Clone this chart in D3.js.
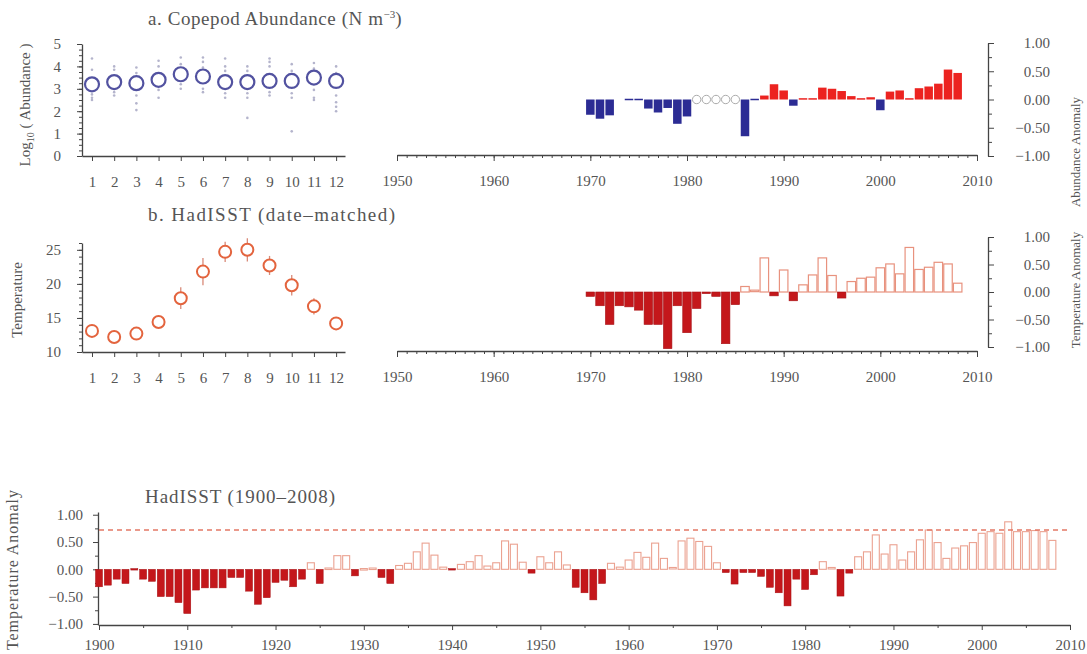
<!DOCTYPE html>
<html>
<head>
<meta charset="utf-8">
<script src="https://cdn.jsdelivr.net/npm/d3@7"></script>
<style>
body { margin: 0; background: #fff; }
text { font-family: "Liberation Serif", serif; fill: #555; }
.axis path, .axis line { stroke: #444; }
.axis text { font-family: "Liberation Serif", serif; fill: #555; font-size: 15px; }
</style>
</head>
<body>
<script>
// monthly climatology (panel a / b, left)
var months = [1, 2, 3, 4, 5, 6, 7, 8, 9, 10, 11, 12];
var copeMean = [3.2, 3.3, 3.25, 3.4, 3.65, 3.55, 3.3, 3.3, 3.35, 3.35, 3.5, 3.35];
var copeDots = [
  [4.35, 3.85, 2.75, 2.6, 2.5],
  [4.0, 3.85, 2.85, 2.7],
  [3.95, 3.7, 2.7, 2.35, 2.05],
  [4.25, 4.0, 2.95, 2.6],
  [4.4, 4.1, 3.2, 3.0],
  [4.4, 4.2, 3.95, 3.0, 2.85],
  [4.35, 4.0, 3.8, 2.8, 2.6],
  [4.0, 3.8, 2.8, 2.6, 1.7],
  [4.35, 4.2, 4.0, 2.85, 2.7],
  [4.1, 3.8, 2.8, 2.6, 1.1],
  [4.15, 3.9, 2.95, 2.6, 2.5],
  [4.0, 3.7, 2.7, 2.4, 2.2, 2.0]
];
var tempMean = [13.1, 12.2, 12.7, 14.4, 17.9, 21.8, 24.7, 25.0, 22.7, 19.8, 16.7, 14.2];
var tempSd = [0.7, 0.7, 0.8, 0.9, 1.6, 2.0, 1.5, 1.7, 1.4, 1.5, 1.2, 0.9];

// annual anomalies 1970-2008 (panel a / b, right)
var annYears = [1970, 1971, 1972, 1973, 1974, 1975, 1976, 1977, 1978, 1979,
  1980, 1981, 1982, 1983, 1984, 1985, 1986, 1987, 1988, 1989,
  1990, 1991, 1992, 1993, 1994, 1995, 1996, 1997, 1998, 1999,
  2000, 2001, 2002, 2003, 2004, 2005, 2006, 2007, 2008];
var copeAnom = [-0.27, -0.34, -0.28, null, -0.02, -0.02, -0.16, -0.23, -0.15, -0.43,
  -0.30, null, null, null, null, null, -0.65, -0.01, 0.07, 0.27,
  0.16, -0.11, 0.01, 0.01, 0.21, 0.19, 0.15, 0.06, 0.01, 0.04,
  -0.19, 0.14, 0.16, 0.01, 0.20, 0.23, 0.28, 0.53, 0.47];
var copeMissing = [1981, 1982, 1983, 1984, 1985];
var sstAnom = [-0.08, -0.25, -0.59, -0.25, -0.27, -0.33, -0.59, -0.59, -1.03, -0.25,
  -0.74, -0.30, -0.03, -0.08, -0.94, -0.23, 0.10, 0.02, 0.62, -0.07,
  0.40, -0.16, 0.13, 0.31, 0.62, 0.30, -0.11, 0.19, 0.25, 0.27,
  0.44, 0.51, 0.33, 0.81, 0.41, 0.45, 0.54, 0.51, 0.16];

// long HadISST record 1900-2008
var longYears = d3.range(1900, 2009);
var longAnom = [-0.32, -0.29, -0.18, -0.26, -0.02, -0.18, -0.22, -0.50, -0.50, -0.61,
  -0.81, -0.38, -0.34, -0.34, -0.34, -0.15, -0.15, -0.40, -0.64, -0.52,
  -0.24, -0.20, -0.32, -0.18, 0.12, -0.26, 0.01, 0.25, 0.25, -0.12,
  0.00, 0.01, -0.15, -0.26, 0.07, 0.11, 0.32, 0.48, 0.26, 0.04,
  -0.01, 0.09, 0.14, 0.25, 0.06, 0.12, 0.52, 0.46, 0.13, -0.07,
  0.23, 0.12, 0.32, 0.08, -0.33, -0.43, -0.56, -0.26, 0.11, 0.04,
  0.17, 0.31, 0.22, 0.48, 0.20, 0.02, 0.52, 0.57, 0.51, 0.42,
  0.12, -0.06, -0.27, -0.06, -0.06, -0.13, -0.33, -0.43, -0.67, -0.18,
  -0.37, -0.10, 0.14, 0.02, -0.49, -0.07, 0.23, 0.32, 0.63, 0.28,
  0.45, 0.17, 0.32, 0.54, 0.72, 0.49, 0.20, 0.39, 0.43, 0.49,
  0.66, 0.69, 0.66, 0.87, 0.69, 0.69, 0.71, 0.69, 0.53];
var threshold = 0.72;

var anomTicks = [-1, -0.5, 0, 0.5, 1];
var decadeTicks = [1950, 1960, 1970, 1980, 1990, 2000, 2010];
var longDecades = [1900, 1910, 1920, 1930, 1940, 1950, 1960, 1970, 1980, 1990, 2000, 2010];

var svg = d3.select("body").append("svg")
  .attr("width", 1087)
  .attr("height", 654);

var fmt2 = d3.format(".2f");

var xMonth = d3.scaleLinear().domain([0.55, 12.4]).range([82, 345]);
var xYear = d3.scaleLinear().domain([1950, 2010]).range([397, 977]);
var xLong = d3.scaleLinear().domain([1900, 2010]).range([99, 1070]);

var yA = d3.scaleLinear().domain([0, 5]).range([156, 44]);
var yB = d3.scaleLinear().domain([10, 26]).range([352, 243]);
var yAr = d3.scaleLinear().domain([-1, 1]).range([156, 43]);
var yBr = d3.scaleLinear().domain([-1, 1]).range([347, 237]);
var yL = d3.scaleLinear().domain([-1.02, 1.05]).range([625, 512]);

function axis(sel, a) {
  return sel.append("g").attr("class", "axis").call(a)
    .call(function (g) { g.select(".domain").attr("stroke-width", 1.3); });
}

function minor(sel, a) {
  sel.append("g").attr("class", "axis").call(a.tickFormat(""))
    .call(function (g) { g.select(".domain").remove(); });
}

function monthPanel(y, ticks, minorTicks, yPos) {
  var gx = svg.append("g").attr("transform", "translate(0," + yPos + ")");
  axis(gx, d3.axisBottom(xMonth).tickValues(months).tickSize(5).tickSizeOuter(0).tickPadding(15));
  var gy = svg.append("g").attr("transform", "translate(82,0)");
  axis(gy, d3.axisLeft(y).tickValues(ticks).tickSize(5).tickSizeOuter(0).tickPadding(16).tickFormat(d3.format("d")));
  minor(gy, d3.axisLeft(y).tickValues(minorTicks).tickSize(3));
}

function yearAxis(yPos) {
  var g = svg.append("g").attr("transform", "translate(0," + yPos + ")");
  axis(g, d3.axisBottom(xYear).tickValues(decadeTicks).tickSize(6).tickSizeOuter(0)
    .tickPadding(14).tickFormat(d3.format("d")));
  minor(g, d3.axisBottom(xYear).tickValues(d3.range(1950, 2011)).tickSize(3));
}

function anomAxis(y) {
  var g = svg.append("g").attr("transform", "translate(988,0)");
  axis(g, d3.axisRight(y).tickValues(anomTicks).tickSize(6).tickSizeOuter(0).tickFormat(fmt2))
    .selectAll(".tick text").attr("x", 62).attr("text-anchor", "end");
  minor(g, d3.axisRight(y).tickValues([-0.75, -0.25, 0.25, 0.75]).tickSize(4));
}

function bars(xs, y, years, vals, w, style) {
  var data = years.map(function (yr, i) { return { year: yr, v: vals[i] }; })
    .filter(function (d) { return d.v !== null; });
  svg.append("g").selectAll("rect")
    .data(data)
    .enter()
    .append("rect")
    .attr("x", function (d) { return xs(d.year) - w / 2; })
    .attr("width", w)
    .attr("y", function (d) { return Math.min(y(d.v), y(0)) - (Math.abs(y(d.v) - y(0)) < 1.5 ? 0.75 : 0); })
    .attr("height", function (d) { return Math.max(1.5, Math.abs(y(d.v) - y(0))); })
    .each(function (d) { d3.select(this).call(style, d); });
}

// ---------- panel a ----------
monthPanel(yA, [0, 1, 2, 3, 4, 5], d3.range(0, 5.01, 0.25), 156);

copeDots.forEach(function (list, i) {
  svg.append("g").selectAll("circle")
    .data(list)
    .enter()
    .append("circle")
    .attr("cx", xMonth(months[i]))
    .attr("cy", function (d) { return yA(d); })
    .attr("r", 1.3)
    .attr("fill", "#b4b4cc");
});

svg.append("g").selectAll("circle")
  .data(copeMean)
  .enter()
  .append("circle")
  .attr("cx", function (d, i) { return xMonth(months[i]); })
  .attr("cy", function (d) { return yA(d); })
  .attr("r", 7)
  .attr("fill", "none")
  .attr("stroke", "#5252a0")
  .attr("stroke-width", 2.2);

yearAxis(155);
anomAxis(yAr);

bars(xYear, yAr, annYears, copeAnom, 8.5, function (s, d) {
  s.attr("fill", d.v >= 0 ? "#ec2320" : "#2c2c94");
});

svg.append("g").selectAll("circle")
  .data(copeMissing)
  .enter()
  .append("circle")
  .attr("cx", function (d) { return xYear(d); })
  .attr("cy", yAr(0))
  .attr("r", 4.2)
  .attr("fill", "none")
  .attr("stroke", "#aaa")
  .attr("stroke-width", 1);

// ---------- panel b ----------
monthPanel(yB, [10, 15, 20, 25], d3.range(10, 26.01, 1), 352);

svg.append("g").selectAll("line")
  .data(tempMean)
  .enter()
  .append("line")
  .attr("x1", function (d, i) { return xMonth(months[i]); })
  .attr("x2", function (d, i) { return xMonth(months[i]); })
  .attr("y1", function (d, i) { return yB(d - tempSd[i]); })
  .attr("y2", function (d, i) { return yB(d + tempSd[i]); })
  .attr("stroke", "#d98a78")
  .attr("stroke-width", 1.3);

svg.append("g").selectAll("circle")
  .data(tempMean)
  .enter()
  .append("circle")
  .attr("cx", function (d, i) { return xMonth(months[i]); })
  .attr("cy", function (d) { return yB(d); })
  .attr("r", 6)
  .attr("fill", "#fff")
  .attr("stroke", "#e3643e")
  .attr("stroke-width", 2);

yearAxis(351);
anomAxis(yBr);

bars(xYear, yBr, annYears, sstAnom, 8.5, function (s, d) {
  if (d.v < 0) s.attr("fill", "#c4171b").attr("stroke", "#a81216").attr("stroke-width", 0.6);
  else s.attr("fill", "#fff").attr("stroke", "#e8927e").attr("stroke-width", 1.2);
});

// ---------- long record ----------
var gl = svg.append("g").attr("transform", "translate(0,625)");
axis(gl, d3.axisBottom(xLong).tickValues(longDecades).tickSize(5).tickSizeOuter(0)
  .tickPadding(9).tickFormat(d3.format("d")));
minor(gl, d3.axisBottom(xLong).tickValues(d3.range(1905, 2010, 10)).tickSize(3));

var gly = svg.append("g").attr("transform", "translate(98,0)");
axis(gly, d3.axisLeft(yL).tickValues(anomTicks).tickSize(5).tickSizeOuter(0).tickPadding(10).tickFormat(fmt2));
minor(gly, d3.axisLeft(yL).tickValues([-0.75, -0.25, 0.25, 0.75]).tickSize(3));

bars(xLong, yL, longYears, longAnom, 7, function (s, d) {
  if (d.v < 0) s.attr("fill", "#c4171b").attr("stroke", "#a81216").attr("stroke-width", 0.5);
  else s.attr("fill", "#fff").attr("stroke", "#eba291").attr("stroke-width", 1.1);
});

svg.append("line")
  .attr("x1", xLong(1900))
  .attr("x2", xLong(2010))
  .attr("y1", yL(threshold))
  .attr("y2", yL(threshold))
  .attr("stroke", "#e47866")
  .attr("stroke-width", 1.5)
  .attr("stroke-dasharray", "5,4");

// ---------- titles ----------
var t = svg.append("text").attr("x", 148).attr("y", 25).style("font-size", "19px");
t.append("tspan").attr("textLength", 235).attr("lengthAdjust", "spacing").text("a. Copepod Abundance (N m");
t.append("tspan").attr("dy", -7).style("font-size", "11px").text("−3");
t.append("tspan").attr("dy", 7).text(")");

svg.append("text").attr("x", 148).attr("y", 221).style("font-size", "19px")
  .attr("textLength", 247).attr("lengthAdjust", "spacing")
  .text("b. HadISST (date–matched)");
svg.append("text").attr("x", 145).attr("y", 503).style("font-size", "19px")
  .attr("textLength", 190).attr("lengthAdjust", "spacing")
  .text("HadISST (1900–2008)");

var ly = svg.append("text").attr("transform", "translate(30,105) rotate(-90)")
  .attr("text-anchor", "middle").style("font-size", "15px");
ly.append("tspan").text("Log");
ly.append("tspan").attr("dy", 4).style("font-size", "10px").text("10");
ly.append("tspan").attr("dy", -4).text(" ( Abundance )");

svg.append("text").attr("transform", "translate(22,300) rotate(-90)")
  .attr("text-anchor", "middle").style("font-size", "15px").text("Temperature");
svg.append("text").attr("transform", "translate(18,570) rotate(-90)")
  .attr("text-anchor", "middle").style("font-size", "16px")
  .attr("textLength", 160).attr("lengthAdjust", "spacing").text("Temperature Anomaly");
svg.append("text").attr("transform", "translate(1080,152) rotate(-90)")
  .attr("text-anchor", "middle").style("font-size", "13px").text("Abundance Anomaly");
svg.append("text").attr("transform", "translate(1080,290) rotate(-90)")
  .attr("text-anchor", "middle").style("font-size", "13px").text("Temperature Anomaly");
</script>
</body>
</html>
